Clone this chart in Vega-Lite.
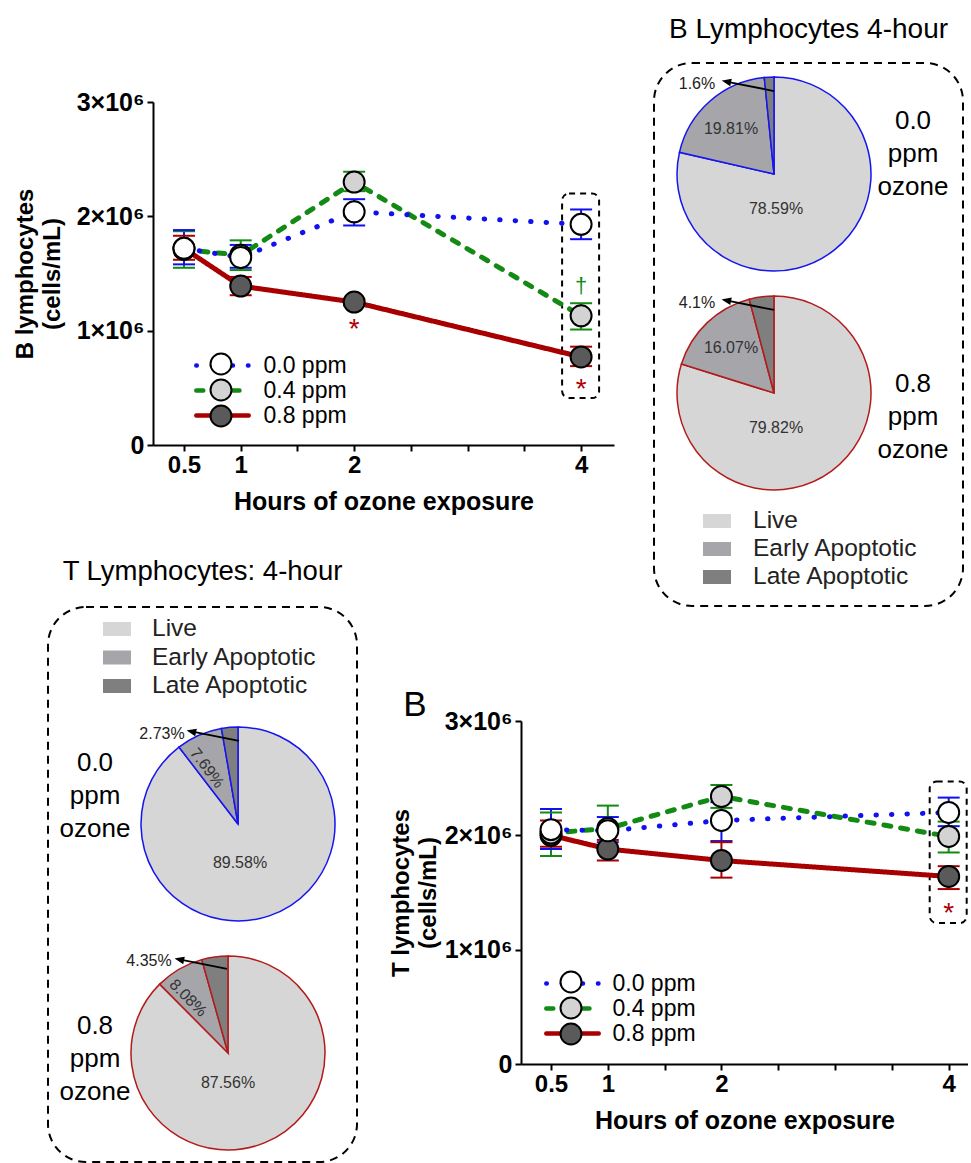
{
  "$schema": "https://vega.github.io/schema/vega-lite/v6.json",
  "background": "white",
  "padding": {"left": 13, "top": 15, "right": 0, "bottom": 0},
  "config": {
    "view": {"stroke": null},
    "font": "Liberation Sans",
    "title": {"font": "Liberation Sans", "color": "black", "fontWeight": "normal"},
    "axis": {
      "domainColor": "black", "domainWidth": 2, "tickColor": "black", "tickWidth": 2, "tickSize": 6,
      "labelFont": "Liberation Sans", "labelFontWeight": "bold", "labelColor": "black",
      "titleFont": "Liberation Sans", "titleFontWeight": "bold", "titleColor": "black", "grid": false
    },
    "legend": {"labelFont": "Liberation Sans", "labelColor": "black", "labelLimit": 300}
  },
  "datasets": {
    "bcells": [
      {"hours": 0.5, "dose": "0.8 ppm", "mean": 1720000, "lo": 1620000, "hi": 1830000},
      {"hours": 1, "dose": "0.8 ppm", "mean": 1390000, "lo": 1310000, "hi": 1470000},
      {"hours": 2, "dose": "0.8 ppm", "mean": 1250000, "lo": 1220000, "hi": 1280000, "sig": "*"},
      {"hours": 4, "dose": "0.8 ppm", "mean": 770000, "lo": 690000, "hi": 860000, "sig": "*"},
      {"hours": 0.5, "dose": "0.4 ppm", "mean": 1710000, "lo": 1550000, "hi": 1870000},
      {"hours": 1, "dose": "0.4 ppm", "mean": 1660000, "lo": 1530000, "hi": 1790000},
      {"hours": 2, "dose": "0.4 ppm", "mean": 2300000, "lo": 2220000, "hi": 2390000},
      {"hours": 4, "dose": "0.4 ppm", "mean": 1130000, "lo": 1010000, "hi": 1240000, "sig": "†"},
      {"hours": 0.5, "dose": "0.0 ppm", "mean": 1720000, "lo": 1580000, "hi": 1880000},
      {"hours": 1, "dose": "0.0 ppm", "mean": 1640000, "lo": 1550000, "hi": 1750000},
      {"hours": 2, "dose": "0.0 ppm", "mean": 2040000, "lo": 1920000, "hi": 2150000},
      {"hours": 4, "dose": "0.0 ppm", "mean": 1930000, "lo": 1800000, "hi": 2060000}
    ],
    "tcells": [
      {"hours": 0.5, "dose": "0.8 ppm", "mean": 2000000, "lo": 1900000, "hi": 2130000},
      {"hours": 1, "dose": "0.8 ppm", "mean": 1880000, "lo": 1780000, "hi": 1960000},
      {"hours": 2, "dose": "0.8 ppm", "mean": 1780000, "lo": 1630000, "hi": 1940000},
      {"hours": 4, "dose": "0.8 ppm", "mean": 1640000, "lo": 1530000, "hi": 1730000, "sig": "*"},
      {"hours": 0.5, "dose": "0.4 ppm", "mean": 2020000, "lo": 1820000, "hi": 2200000},
      {"hours": 1, "dose": "0.4 ppm", "mean": 2060000, "lo": 1880000, "hi": 2260000},
      {"hours": 2, "dose": "0.4 ppm", "mean": 2340000, "lo": 2240000, "hi": 2440000},
      {"hours": 4, "dose": "0.4 ppm", "mean": 1990000, "lo": 1850000, "hi": 2120000},
      {"hours": 0.5, "dose": "0.0 ppm", "mean": 2050000, "lo": 1880000, "hi": 2230000},
      {"hours": 1, "dose": "0.0 ppm", "mean": 2040000, "lo": 1940000, "hi": 2160000},
      {"hours": 2, "dose": "0.0 ppm", "mean": 2130000, "lo": 1950000, "hi": 2290000},
      {"hours": 4, "dose": "0.0 ppm", "mean": 2200000, "lo": 2080000, "hi": 2330000}
    ],
    "bpie": [
      {"dose": "0.0 ppm", "category": "Live", "share": 0.7859},
      {"dose": "0.0 ppm", "category": "Early Apoptotic", "share": 0.1981},
      {"dose": "0.0 ppm", "category": "Late Apoptotic", "share": 0.016},
      {"dose": "0.8 ppm", "category": "Live", "share": 0.7982},
      {"dose": "0.8 ppm", "category": "Early Apoptotic", "share": 0.1607},
      {"dose": "0.8 ppm", "category": "Late Apoptotic", "share": 0.041}
    ],
    "tpie": [
      {"dose": "0.0 ppm", "category": "Live", "share": 0.8958},
      {"dose": "0.0 ppm", "category": "Early Apoptotic", "share": 0.0769},
      {"dose": "0.0 ppm", "category": "Late Apoptotic", "share": 0.0273},
      {"dose": "0.8 ppm", "category": "Live", "share": 0.8756},
      {"dose": "0.8 ppm", "category": "Early Apoptotic", "share": 0.0808},
      {"dose": "0.8 ppm", "category": "Late Apoptotic", "share": 0.0435}
    ],
    "panel_labels": [
      {"dose": "0.0 ppm", "text": "0.0 ppm ozone"},
      {"dose": "0.8 ppm", "text": "0.8 ppm ozone"}
    ]
  },
  "spacing": -100,
  "resolve": {
    "scale": {"color": "independent", "fill": "independent", "stroke": "independent", "strokeDash": "independent", "theta": "independent"},
    "legend": {"color": "independent", "fill": "independent", "stroke": "independent", "strokeDash": "independent"}
  },
  "vconcat": [
    {
      "spacing": 39,
      "resolve": {
        "scale": {"color": "independent", "fill": "independent", "stroke": "independent", "strokeDash": "independent", "theta": "independent"},
        "legend": {"color": "independent", "fill": "independent", "stroke": "independent", "strokeDash": "independent"}
      },
      "hconcat": [
        {
          "spacing": -36,
          "resolve": {
            "scale": {"color": "independent", "fill": "independent", "stroke": "independent", "strokeDash": "independent"},
            "legend": {"color": "independent", "fill": "independent", "stroke": "independent", "strokeDash": "independent"}
          },
          "hconcat": [
            {"width": 1, "height": 1, "data": {"values": []}, "mark": "point"},
            {
              "spacing": 26,
              "resolve": {
                "scale": {"color": "independent", "fill": "independent", "stroke": "independent", "strokeDash": "independent"},
                "legend": {"color": "independent", "fill": "independent", "stroke": "independent", "strokeDash": "independent"}
              },
              "vconcat": [
                {"width": 1, "height": 1, "data": {"values": []}, "mark": "point"},
                {
                  "width": 461, "height": 343,
                  "data": {"name": "bcells"},
                  "encoding": {
                    "x": {"field": "hours", "type": "quantitative",
                      "scale": {"domain": [0.227, 4.29], "nice": false, "zero": false},
                      "axis": {"values": [0.5, 1, 1.5, 2, 2.5, 3, 3.5, 4],
                        "labelExpr": "datum.value == 0.5 || datum.value == 1 || datum.value == 2 || datum.value == 4 ? format(datum.value, '~g') : ''",
                        "title": "Hours of ozone exposure", "labelFontSize": 24, "titleFontSize": 25,
                        "titlePadding": 12, "labelPadding": 2, "labelFlush": false, "labelOverlap": false}}
                  },
                  "layer": [
                    {
                      "transform": [
                        {"filter": "datum.hours == 4"},
                        {"aggregate": [{"op": "min", "field": "lo", "as": "blo"}, {"op": "max", "field": "hi", "as": "bhi"}], "groupby": ["hours"]}
                      ],
                      "mark": {"type": "rect", "fill": "transparent", "stroke": "black", "strokeWidth": 2, "strokeDash": [6, 5], "cornerRadius": 7,
                        "xOffset": -19, "x2Offset": 18, "yOffset": 32, "y2Offset": -16},
                      "encoding": {
                        "x2": {"field": "hours"},
                        "y": {"field": "blo", "type": "quantitative", "scale": {"domain": [0, 3000000], "nice": false},
                          "axis": {"values": [0, 1000000, 2000000, 3000000], "labelExpr": "datum.value == 0 ? '0' : format(datum.value / 1000000, 'd') + '×10⁶'",
                            "title": ["B lymphocytes", "(cells/mL)"], "labelFontSize": 25, "titleFontSize": 24, "titlePadding": 12, "titleLineHeight": 27, "labelPadding": 3}},
                        "y2": {"field": "bhi"}
                      }
                    },
                    {
                      "mark": {"type": "line", "strokeWidth": 5, "strokeCap": "round"},
                      "encoding": {
                        "y": {"field": "mean", "type": "quantitative", "scale": {"domain": [0, 3000000], "nice": false},
                          "axis": {"values": [0, 1000000, 2000000, 3000000], "labelExpr": "datum.value == 0 ? '0' : format(datum.value / 1000000, 'd') + '×10⁶'",
                            "title": ["B lymphocytes", "(cells/mL)"], "labelFontSize": 25, "titleFontSize": 24, "titlePadding": 12, "titleLineHeight": 27, "labelPadding": 3}},
                        "stroke": {"field": "dose", "type": "nominal",
                          "scale": {"domain": ["0.0 ppm", "0.4 ppm", "0.8 ppm"], "range": ["#1010f0", "#138a13", "#a80000"]},
                          "legend": {"orient": "none", "legendX": 56.5, "legendY": 250.5, "title": null,
                            "symbolType": "M-2.5,0H-0.95M0.95,0H2.5", "symbolSize": 440, "symbolStrokeWidth": 4.5,
                            "labelFontSize": 23, "labelOffset": 28, "rowPadding": -4,
                            "encode": {"symbols": {"update": {"strokeCap": {"value": "round"}}}}}},
                        "strokeDash": {"field": "dose", "type": "nominal",
                          "scale": {"domain": ["0.0 ppm", "0.4 ppm", "0.8 ppm"], "range": [[0.5, 15], [7, 10], [1, 0]]},
                          "legend": {"orient": "none", "legendX": 56.5, "legendY": 250.5, "title": null,
                            "symbolType": "M-2.5,0H-0.95M0.95,0H2.5", "symbolSize": 440, "symbolStrokeWidth": 4.5,
                            "labelFontSize": 23, "labelOffset": 28, "rowPadding": -4}}
                      }
                    },
                    {
                      "mark": {"type": "rule", "strokeWidth": 2},
                      "encoding": {
                        "y": {"field": "lo", "type": "quantitative", "scale": {"domain": [0, 3000000], "nice": false},
                          "axis": {"values": [0, 1000000, 2000000, 3000000], "labelExpr": "datum.value == 0 ? '0' : format(datum.value / 1000000, 'd') + '×10⁶'",
                            "title": ["B lymphocytes", "(cells/mL)"], "labelFontSize": 25, "titleFontSize": 24, "titlePadding": 12, "titleLineHeight": 27, "labelPadding": 3}},
                        "y2": {"field": "hi"},
                        "color": {"field": "dose", "type": "nominal", "scale": {"domain": ["0.0 ppm", "0.4 ppm", "0.8 ppm"], "range": ["#1010f0", "#138a13", "#a80000"]}, "legend": null}
                      }
                    },
                    {
                      "mark": {"type": "tick", "orient": "horizontal", "size": 22, "thickness": 2, "opacity": 1},
                      "encoding": {
                        "y": {"field": "lo", "type": "quantitative", "scale": {"domain": [0, 3000000], "nice": false},
                          "axis": {"values": [0, 1000000, 2000000, 3000000], "labelExpr": "datum.value == 0 ? '0' : format(datum.value / 1000000, 'd') + '×10⁶'",
                            "title": ["B lymphocytes", "(cells/mL)"], "labelFontSize": 25, "titleFontSize": 24, "titlePadding": 12, "titleLineHeight": 27, "labelPadding": 3}},
                        "color": {"field": "dose", "type": "nominal", "scale": {"domain": ["0.0 ppm", "0.4 ppm", "0.8 ppm"], "range": ["#1010f0", "#138a13", "#a80000"]}, "legend": null}
                      }
                    },
                    {
                      "mark": {"type": "tick", "orient": "horizontal", "size": 22, "thickness": 2, "opacity": 1},
                      "encoding": {
                        "y": {"field": "hi", "type": "quantitative", "scale": {"domain": [0, 3000000], "nice": false},
                          "axis": {"values": [0, 1000000, 2000000, 3000000], "labelExpr": "datum.value == 0 ? '0' : format(datum.value / 1000000, 'd') + '×10⁶'",
                            "title": ["B lymphocytes", "(cells/mL)"], "labelFontSize": 25, "titleFontSize": 24, "titlePadding": 12, "titleLineHeight": 27, "labelPadding": 3}},
                        "color": {"field": "dose", "type": "nominal", "scale": {"domain": ["0.0 ppm", "0.4 ppm", "0.8 ppm"], "range": ["#1010f0", "#138a13", "#a80000"]}, "legend": null}
                      }
                    },
                    {
                      "mark": {"type": "point", "filled": true, "size": 440, "stroke": "black", "strokeWidth": 2, "opacity": 1, "fillOpacity": 1},
                      "encoding": {
                        "y": {"field": "mean", "type": "quantitative", "scale": {"domain": [0, 3000000], "nice": false},
                          "axis": {"values": [0, 1000000, 2000000, 3000000], "labelExpr": "datum.value == 0 ? '0' : format(datum.value / 1000000, 'd') + '×10⁶'",
                            "title": ["B lymphocytes", "(cells/mL)"], "labelFontSize": 25, "titleFontSize": 24, "titlePadding": 12, "titleLineHeight": 27, "labelPadding": 3}},
                        "fill": {"field": "dose", "type": "nominal", "scale": {"range": ["#ffffff", "#d3d3d3", "#5a5a5a"]},
                          "legend": {"orient": "none", "legendX": 56.5, "legendY": 250.5, "title": null,
                            "symbolType": "circle", "symbolSize": 440, "symbolStrokeColor": "black", "symbolStrokeWidth": 2, "symbolOpacity": 1,
                            "labelFontSize": 23, "labelOffset": 28, "rowPadding": -4, "labelExpr": "''"}}
                      }
                    },
                    {
                      "transform": [{"filter": "datum.sig == '*'"}],
                      "mark": {"type": "text", "fontSize": 28, "dy": 24, "color": "#b00000"},
                      "encoding": {
                        "y": {"field": "lo", "type": "quantitative", "scale": {"domain": [0, 3000000], "nice": false},
                          "axis": {"values": [0, 1000000, 2000000, 3000000], "labelExpr": "datum.value == 0 ? '0' : format(datum.value / 1000000, 'd') + '×10⁶'",
                            "title": ["B lymphocytes", "(cells/mL)"], "labelFontSize": 25, "titleFontSize": 24, "titlePadding": 12, "titleLineHeight": 27, "labelPadding": 3}},
                        "text": {"field": "sig"}
                      }
                    },
                    {
                      "transform": [{"filter": "datum.sig == '†'"}],
                      "mark": {"type": "text", "fontSize": 22, "dy": -17, "color": "#138a13"},
                      "encoding": {
                        "y": {"field": "hi", "type": "quantitative", "scale": {"domain": [0, 3000000], "nice": false},
                          "axis": {"values": [0, 1000000, 2000000, 3000000], "labelExpr": "datum.value == 0 ? '0' : format(datum.value / 1000000, 'd') + '×10⁶'",
                            "title": ["B lymphocytes", "(cells/mL)"], "labelFontSize": 25, "titleFontSize": 24, "titlePadding": 12, "titleLineHeight": 27, "labelPadding": 3}},
                        "text": {"field": "sig"}
                      }
                    }
                  ]
                }
              ]
            }
          ]
        },
        {
          "width": 309, "height": 543,
          "view": {"stroke": "black", "strokeWidth": 2, "strokeDash": [8, 6], "cornerRadius": 38},
          "title": {"text": "B Lymphocytes 4-hour", "fontSize": 28, "offset": 19},
          "data": {"name": "bpie"},
          "encoding": {
            "x": {"datum": "pie", "type": "nominal", "scale": {"type": "point", "domain": ["pie", "label"], "padding": 0.6115, "align": 0.7059}, "axis": null},
            "y": {"field": "dose", "type": "nominal", "scale": {"type": "point", "domain": ["0.0 ppm", "0.8 ppm"], "padding": 0.74, "align": 0.3426}, "axis": null}
          },
          "layer": [
            {
              "transform": [{"filter": "datum.dose == '0.0 ppm'"}],
              "mark": {"type": "arc", "outerRadius": 97, "stroke": "#1515ee", "strokeWidth": 1.5},
              "encoding": {
                "theta": {"field": "share", "type": "quantitative", "stack": true},
                "order": {"field": "share", "sort": "descending"},
                "fill": {"field": "category", "type": "nominal",
                  "scale": {"domain": ["Live", "Early Apoptotic", "Late Apoptotic"], "range": ["#d6d6d6", "#a5a5aa", "#7f7f7f"]},
                  "legend": {"orient": "none", "legendX": 49, "legendY": 444, "title": null,
                    "symbolType": "M-1,-0.5H1V0.5H-1Z", "symbolSize": 784, "symbolStrokeWidth": 0, "symbolOpacity": 1,
                    "labelFontSize": 24.5, "labelOffset": 22, "rowPadding": 2, "labelColor": "#222"}}
              }
            },
            {
              "transform": [{"filter": "datum.dose == '0.8 ppm'"}],
              "mark": {"type": "arc", "outerRadius": 97, "stroke": "#b31b1b", "strokeWidth": 1.5},
              "encoding": {
                "theta": {"field": "share", "type": "quantitative", "stack": true},
                "order": {"field": "share", "sort": "descending"},
                "fill": {"field": "category", "type": "nominal",
                  "scale": {"domain": ["Live", "Early Apoptotic", "Late Apoptotic"], "range": ["#d6d6d6", "#a5a5aa", "#7f7f7f"]},
                  "legend": {"orient": "none", "legendX": 49, "legendY": 444, "title": null,
                    "symbolType": "M-1,-0.5H1V0.5H-1Z", "symbolSize": 784, "symbolStrokeWidth": 0, "symbolOpacity": 1,
                    "labelFontSize": 24.5, "labelOffset": 22, "rowPadding": 2, "labelColor": "#222"}}
              }
            },
            {
              "transform": [{"filter": "datum.category == 'Live'"}],
              "mark": {"type": "text", "fontSize": 16, "color": "#333", "dx": 2, "dy": 35},
              "encoding": {"text": {"field": "share", "format": ".2~%"}}
            },
            {
              "transform": [{"filter": "datum.category == 'Early Apoptotic'"}],
              "mark": {"type": "text", "fontSize": 16, "color": "#333", "dx": -43, "dy": -45},
              "encoding": {"text": {"field": "share", "format": ".2~%"}}
            },
            {
              "transform": [{"filter": "datum.category == 'Late Apoptotic'"}],
              "mark": {"type": "text", "fontSize": 16, "color": "#222", "dx": -77, "dy": -90},
              "encoding": {"text": {"field": "share", "format": ".2~%"}}
            },
            {
              "transform": [{"filter": "datum.category == 'Late Apoptotic'"}],
              "mark": {"type": "point", "shape": "M1,0.2L-0.76,-0.15M-1,-0.2L-0.735,-0.249L-0.775,-0.053Z", "size": 2500,
                "filled": true, "fill": "black", "stroke": "black", "strokeWidth": 1.8, "opacity": 1, "xOffset": -25, "yOffset": -88}
            },
            {
              "data": {"name": "panel_labels"},
              "transform": [{"filter": "datum.dose == '0.0 ppm'"}],
              "mark": {"type": "text", "fontSize": 26, "lineBreak": " ", "lineHeight": 33, "color": "black", "dy": -53},
              "encoding": {"x": {"datum": "label", "type": "nominal"}, "text": {"field": "text"}}
            },
            {
              "data": {"name": "panel_labels"},
              "transform": [{"filter": "datum.dose == '0.8 ppm'"}],
              "mark": {"type": "text", "fontSize": 26, "lineBreak": " ", "lineHeight": 33, "color": "black", "dy": -9},
              "encoding": {"x": {"datum": "label", "type": "nominal"}, "text": {"field": "text"}}
            }
          ]
        }
      ]
    },
    {
      "spacing": 31,
      "resolve": {
        "scale": {"color": "independent", "fill": "independent", "stroke": "independent", "strokeDash": "independent", "theta": "independent"},
        "legend": {"color": "independent", "fill": "independent", "stroke": "independent", "strokeDash": "independent"}
      },
      "hconcat": [
        {
          "width": 309, "height": 555,
          "view": {"stroke": "black", "strokeWidth": 2, "strokeDash": [8, 6], "cornerRadius": 38},
          "title": {"text": "T Lymphocytes: 4-hour", "fontSize": 27.5, "offset": 22},
          "data": {"name": "tpie"},
          "encoding": {
            "x": {"datum": "pie", "type": "nominal", "scale": {"type": "point", "domain": ["label", "pie"], "padding": 0.6196, "align": 0.2749}, "axis": null},
            "y": {"field": "dose", "type": "nominal", "scale": {"type": "point", "domain": ["0.0 ppm", "0.8 ppm"], "padding": 0.7118, "align": 0.6656}, "axis": null}
          },
          "layer": [
            {
              "transform": [{"filter": "datum.dose == '0.0 ppm'"}],
              "mark": {"type": "arc", "outerRadius": 97, "stroke": "#1515ee", "strokeWidth": 1.5, "xOffset": 5},
              "encoding": {
                "theta": {"field": "share", "type": "quantitative", "stack": true},
                "order": {"field": "share", "sort": "descending"},
                "fill": {"field": "category", "type": "nominal",
                  "scale": {"domain": ["Live", "Early Apoptotic", "Late Apoptotic"], "range": ["#d6d6d6", "#a5a5aa", "#7f7f7f"]},
                  "legend": {"orient": "none", "legendX": 55, "legendY": 8, "title": null,
                    "symbolType": "M-1,-0.5H1V0.5H-1Z", "symbolSize": 784, "symbolStrokeWidth": 0, "symbolOpacity": 1,
                    "labelFontSize": 24.5, "labelOffset": 21, "rowPadding": 2.5, "labelColor": "#222"}}
              }
            },
            {
              "transform": [{"filter": "datum.dose == '0.8 ppm'"}],
              "mark": {"type": "arc", "outerRadius": 97, "stroke": "#b31b1b", "strokeWidth": 1.5, "xOffset": -5},
              "encoding": {
                "theta": {"field": "share", "type": "quantitative", "stack": true},
                "order": {"field": "share", "sort": "descending"},
                "fill": {"field": "category", "type": "nominal",
                  "scale": {"domain": ["Live", "Early Apoptotic", "Late Apoptotic"], "range": ["#d6d6d6", "#a5a5aa", "#7f7f7f"]},
                  "legend": {"orient": "none", "legendX": 55, "legendY": 8, "title": null,
                    "symbolType": "M-1,-0.5H1V0.5H-1Z", "symbolSize": 784, "symbolStrokeWidth": 0, "symbolOpacity": 1,
                    "labelFontSize": 24.5, "labelOffset": 21, "rowPadding": 2.5, "labelColor": "#222"}}
              }
            },
            {
              "transform": [{"filter": "datum.dose == '0.0 ppm' && datum.category == 'Live'"}],
              "mark": {"type": "text", "fontSize": 16, "color": "#333", "dx": 7, "dy": 39},
              "encoding": {"text": {"field": "share", "format": ".2~%"}}
            },
            {
              "transform": [{"filter": "datum.dose == '0.8 ppm' && datum.category == 'Live'"}],
              "mark": {"type": "text", "fontSize": 16, "color": "#333", "dx": -5, "dy": 30},
              "encoding": {"text": {"field": "share", "format": ".2~%"}}
            },
            {
              "transform": [{"filter": "datum.dose == '0.0 ppm' && datum.category == 'Early Apoptotic'"}],
              "mark": {"type": "text", "fontSize": 16, "color": "#333", "angle": 53, "dx": -60.3, "dy": -12.9},
              "encoding": {"text": {"field": "share", "format": ".2~%"}}
            },
            {
              "transform": [{"filter": "datum.dose == '0.8 ppm' && datum.category == 'Early Apoptotic'"}],
              "mark": {"type": "text", "fontSize": 16, "color": "#333", "angle": 45, "dx": -70.7, "dy": -7.1},
              "encoding": {"text": {"field": "share", "format": ".2~%"}}
            },
            {
              "transform": [{"filter": "datum.dose == '0.0 ppm' && datum.category == 'Late Apoptotic'"}],
              "mark": {"type": "text", "fontSize": 16, "color": "#222", "dx": -71, "dy": -90},
              "encoding": {"text": {"field": "share", "format": ".2~%"}}
            },
            {
              "transform": [{"filter": "datum.dose == '0.8 ppm' && datum.category == 'Late Apoptotic'"}],
              "mark": {"type": "text", "fontSize": 16, "color": "#222", "dx": -84, "dy": -92},
              "encoding": {"text": {"field": "share", "format": ".2~%"}}
            },
            {
              "transform": [{"filter": "datum.dose == '0.0 ppm' && datum.category == 'Late Apoptotic'"}],
              "mark": {"type": "point", "shape": "M1,0.2L-0.76,-0.15M-1,-0.2L-0.735,-0.249L-0.775,-0.053Z", "size": 2500,
                "filled": true, "fill": "black", "stroke": "black", "strokeWidth": 1.8, "opacity": 1, "xOffset": -19, "yOffset": -88}
            },
            {
              "transform": [{"filter": "datum.dose == '0.8 ppm' && datum.category == 'Late Apoptotic'"}],
              "mark": {"type": "point", "shape": "M1,0.2L-0.76,-0.15M-1,-0.2L-0.735,-0.249L-0.775,-0.053Z", "size": 2500,
                "filled": true, "fill": "black", "stroke": "black", "strokeWidth": 1.8, "opacity": 1, "xOffset": -31, "yOffset": -89}
            },
            {
              "data": {"name": "panel_labels"},
              "transform": [{"filter": "datum.dose == '0.0 ppm'"}],
              "mark": {"type": "text", "fontSize": 26, "lineBreak": " ", "lineHeight": 33, "color": "black", "dy": -61},
              "encoding": {"x": {"datum": "label", "type": "nominal"}, "text": {"field": "text"}}
            },
            {
              "data": {"name": "panel_labels"},
              "transform": [{"filter": "datum.dose == '0.8 ppm'"}],
              "mark": {"type": "text", "fontSize": 26, "lineBreak": " ", "lineHeight": 33, "color": "black", "dy": -27},
              "encoding": {"x": {"datum": "label", "type": "nominal"}, "text": {"field": "text"}}
            }
          ]
        },
        {
          "spacing": 80,
          "resolve": {
            "scale": {"color": "independent", "fill": "independent", "stroke": "independent", "strokeDash": "independent"},
            "legend": {"color": "independent", "fill": "independent", "stroke": "independent", "strokeDash": "independent"}
          },
          "vconcat": [
            {"width": 1, "height": 1, "data": {"values": []}, "mark": "point"},
            {
              "width": 447, "height": 343,
              "title": {"text": "B", "fontSize": 35, "anchor": "start", "frame": "bounds", "offset": -14, "dx": 14},
              "data": {"name": "tcells"},
              "encoding": {
                "x": {"field": "hours", "type": "quantitative",
                  "scale": {"domain": [0.236, 4.17], "nice": false, "zero": false},
                  "axis": {"values": [0.5, 1, 1.5, 2, 2.5, 3, 3.5, 4],
                    "labelExpr": "datum.value == 0.5 || datum.value == 1 || datum.value == 2 || datum.value == 4 ? format(datum.value, '~g') : ''",
                    "title": "Hours of ozone exposure", "labelFontSize": 24, "titleFontSize": 25,
                    "titlePadding": 12, "labelPadding": 2, "labelFlush": false, "labelOverlap": false}}
              },
              "layer": [
                {
                  "transform": [
                    {"filter": "datum.hours == 4"},
                    {"aggregate": [{"op": "min", "field": "lo", "as": "blo"}, {"op": "max", "field": "hi", "as": "bhi"}], "groupby": ["hours"]}
                  ],
                  "mark": {"type": "rect", "fill": "transparent", "stroke": "black", "strokeWidth": 2, "strokeDash": [6, 5], "cornerRadius": 7,
                    "xOffset": -19, "x2Offset": 18, "yOffset": 34, "y2Offset": -16},
                  "encoding": {
                    "x2": {"field": "hours"},
                    "y": {"field": "blo", "type": "quantitative", "scale": {"domain": [0, 3000000], "nice": false},
                      "axis": {"values": [0, 1000000, 2000000, 3000000], "labelExpr": "datum.value == 0 ? '0' : format(datum.value / 1000000, 'd') + '×10⁶'",
                        "title": ["T lymphocytes", "(cells/mL)"], "labelFontSize": 25, "titleFontSize": 24, "titlePadding": 4, "titleLineHeight": 27, "labelPadding": 3}},
                    "y2": {"field": "bhi"}
                  }
                },
                {
                  "mark": {"type": "line", "strokeWidth": 5, "strokeCap": "round"},
                  "encoding": {
                    "y": {"field": "mean", "type": "quantitative", "scale": {"domain": [0, 3000000], "nice": false},
                      "axis": {"values": [0, 1000000, 2000000, 3000000], "labelExpr": "datum.value == 0 ? '0' : format(datum.value / 1000000, 'd') + '×10⁶'",
                        "title": ["T lymphocytes", "(cells/mL)"], "labelFontSize": 25, "titleFontSize": 24, "titlePadding": 4, "titleLineHeight": 27, "labelPadding": 3}},
                    "stroke": {"field": "dose", "type": "nominal",
                      "scale": {"domain": ["0.0 ppm", "0.4 ppm", "0.8 ppm"], "range": ["#1010f0", "#138a13", "#a80000"]},
                      "legend": {"orient": "none", "legendX": 38.5, "legendY": 249.5, "title": null,
                        "symbolType": "M-2.5,0H-0.95M0.95,0H2.5", "symbolSize": 440, "symbolStrokeWidth": 4.5,
                        "labelFontSize": 23, "labelOffset": 27, "rowPadding": -4,
                        "encode": {"symbols": {"update": {"strokeCap": {"value": "round"}}}}}},
                    "strokeDash": {"field": "dose", "type": "nominal",
                      "scale": {"domain": ["0.0 ppm", "0.4 ppm", "0.8 ppm"], "range": [[0.5, 15], [7, 10], [1, 0]]},
                      "legend": {"orient": "none", "legendX": 38.5, "legendY": 249.5, "title": null,
                        "symbolType": "M-2.5,0H-0.95M0.95,0H2.5", "symbolSize": 440, "symbolStrokeWidth": 4.5,
                        "labelFontSize": 23, "labelOffset": 27, "rowPadding": -4}}
                  }
                },
                {
                  "mark": {"type": "rule", "strokeWidth": 2},
                  "encoding": {
                    "y": {"field": "lo", "type": "quantitative", "scale": {"domain": [0, 3000000], "nice": false},
                      "axis": {"values": [0, 1000000, 2000000, 3000000], "labelExpr": "datum.value == 0 ? '0' : format(datum.value / 1000000, 'd') + '×10⁶'",
                        "title": ["T lymphocytes", "(cells/mL)"], "labelFontSize": 25, "titleFontSize": 24, "titlePadding": 4, "titleLineHeight": 27, "labelPadding": 3}},
                    "y2": {"field": "hi"},
                    "color": {"field": "dose", "type": "nominal", "scale": {"domain": ["0.0 ppm", "0.4 ppm", "0.8 ppm"], "range": ["#1010f0", "#138a13", "#a80000"]}, "legend": null}
                  }
                },
                {
                  "mark": {"type": "tick", "orient": "horizontal", "size": 22, "thickness": 2, "opacity": 1},
                  "encoding": {
                    "y": {"field": "lo", "type": "quantitative", "scale": {"domain": [0, 3000000], "nice": false},
                      "axis": {"values": [0, 1000000, 2000000, 3000000], "labelExpr": "datum.value == 0 ? '0' : format(datum.value / 1000000, 'd') + '×10⁶'",
                        "title": ["T lymphocytes", "(cells/mL)"], "labelFontSize": 25, "titleFontSize": 24, "titlePadding": 4, "titleLineHeight": 27, "labelPadding": 3}},
                    "color": {"field": "dose", "type": "nominal", "scale": {"domain": ["0.0 ppm", "0.4 ppm", "0.8 ppm"], "range": ["#1010f0", "#138a13", "#a80000"]}, "legend": null}
                  }
                },
                {
                  "mark": {"type": "tick", "orient": "horizontal", "size": 22, "thickness": 2, "opacity": 1},
                  "encoding": {
                    "y": {"field": "hi", "type": "quantitative", "scale": {"domain": [0, 3000000], "nice": false},
                      "axis": {"values": [0, 1000000, 2000000, 3000000], "labelExpr": "datum.value == 0 ? '0' : format(datum.value / 1000000, 'd') + '×10⁶'",
                        "title": ["T lymphocytes", "(cells/mL)"], "labelFontSize": 25, "titleFontSize": 24, "titlePadding": 4, "titleLineHeight": 27, "labelPadding": 3}},
                    "color": {"field": "dose", "type": "nominal", "scale": {"domain": ["0.0 ppm", "0.4 ppm", "0.8 ppm"], "range": ["#1010f0", "#138a13", "#a80000"]}, "legend": null}
                  }
                },
                {
                  "mark": {"type": "point", "filled": true, "size": 440, "stroke": "black", "strokeWidth": 2, "opacity": 1, "fillOpacity": 1},
                  "encoding": {
                    "y": {"field": "mean", "type": "quantitative", "scale": {"domain": [0, 3000000], "nice": false},
                      "axis": {"values": [0, 1000000, 2000000, 3000000], "labelExpr": "datum.value == 0 ? '0' : format(datum.value / 1000000, 'd') + '×10⁶'",
                        "title": ["T lymphocytes", "(cells/mL)"], "labelFontSize": 25, "titleFontSize": 24, "titlePadding": 4, "titleLineHeight": 27, "labelPadding": 3}},
                    "fill": {"field": "dose", "type": "nominal", "scale": {"range": ["#ffffff", "#d3d3d3", "#5a5a5a"]},
                      "legend": {"orient": "none", "legendX": 38.5, "legendY": 249.5, "title": null,
                        "symbolType": "circle", "symbolSize": 440, "symbolStrokeColor": "black", "symbolStrokeWidth": 2, "symbolOpacity": 1,
                        "labelFontSize": 23, "labelOffset": 27, "rowPadding": -4, "labelExpr": "''"}}
                  }
                },
                {
                  "transform": [{"filter": "datum.sig == '*'"}],
                  "mark": {"type": "text", "fontSize": 28, "dy": 25, "color": "#b00000"},
                  "encoding": {
                    "y": {"field": "lo", "type": "quantitative", "scale": {"domain": [0, 3000000], "nice": false},
                      "axis": {"values": [0, 1000000, 2000000, 3000000], "labelExpr": "datum.value == 0 ? '0' : format(datum.value / 1000000, 'd') + '×10⁶'",
                        "title": ["T lymphocytes", "(cells/mL)"], "labelFontSize": 25, "titleFontSize": 24, "titlePadding": 4, "titleLineHeight": 27, "labelPadding": 3}},
                    "text": {"field": "sig"}
                  }
                }
              ]
            }
          ]
        }
      ]
    }
  ]
}
